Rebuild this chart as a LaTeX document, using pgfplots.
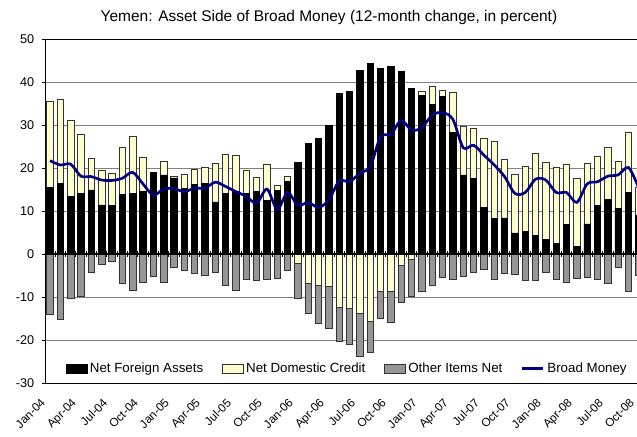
\documentclass[border=0pt]{standalone}
\usepackage{fontspec}
\setmainfont{Liberation Sans}
\usepackage{pgfplots}
\pgfplotsset{compat=1.18}
\usepackage{pgfplotstable}
\usetikzlibrary{calc}
\definecolor{ndc}{HTML}{FFFFCC}
\definecolor{oin}{HTML}{969696}
\definecolor{bmc}{HTML}{000080}
\definecolor{edge}{HTML}{333333}
\definecolor{gridc}{HTML}{808080}

% nfa = Net Foreign Assets (black top), ptop = top of positive stack,
% yneg = negative Net Domestic Credit, nbot = bottom of negative stack, bm = Broad Money
\pgfplotstableread{
m nfa ptop yneg nbot bm
0 15.4 35.6 0 -14.1 21.7
1 16.4 35.9 0 -15.2 20.7
2 13.4 31.1 0 -10.4 20.9
3 14.0 27.8 0 -9.8 18.1
4 14.9 22.3 0 -4.2 18.0
5 11.4 19.5 0 -2.5 17.2
6 11.2 18.8 0 -1.7 17.1
7 13.9 24.7 0 -6.9 17.6
8 14.1 27.3 0 -8.4 19.0
9 14.5 22.5 0 -6.5 16.3
10 19.0 19.0 0 -5.2 13.7
11 18.4 21.5 0 -6.7 15.1
12 17.7 18.1 0 -3.1 15.2
13 15.2 18.5 0 -3.9 14.5
14 16.2 19.7 0 -4.4 15.3
15 16.5 20.2 0 -4.9 15.3
16 12.1 21.0 0 -4.2 16.7
17 14.1 23.2 0 -7.3 15.7
18 14.5 22.9 0 -8.4 14.5
19 14.1 19.5 0 -5.8 13.4
20 14.5 17.9 0 -6.1 11.8
21 12.4 20.8 0 -5.8 15.1
22 14.7 16.0 0 -5.6 10.4
23 16.8 18.1 0 -3.9 14.3
24 21.3 21.3 -2.2 -10.2 11.3
25 25.7 25.7 -6.9 -13.7 12.0
26 26.9 26.9 -7.3 -16.1 10.8
27 29.9 29.9 -7.5 -17.4 12.6
28 37.3 37.3 -12.4 -20.4 17.0
29 37.9 37.9 -12.7 -21.0 16.8
30 42.6 42.6 -13.7 -23.7 18.8
31 44.4 44.4 -15.6 -22.8 20.3
32 43.2 43.2 -8.6 -14.9 27.3
33 43.7 43.7 -8.6 -16.0 27.8
34 42.5 42.5 -2.6 -11.2 31.1
35 38.5 38.5 -1.3 -9.8 28.8
36 36.8 37.9 0 -8.6 29.4
37 34.8 39.1 0 -7.2 32.3
38 36.7 38.1 0 -5.4 32.9
39 28.2 37.5 0 -5.9 31.3
40 18.4 29.7 0 -5.2 24.7
41 17.6 29.3 0 -4.2 25.3
42 10.9 26.8 0 -3.6 23.0
43 8.2 26.2 0 -5.8 20.7
44 8.4 22.1 0 -4.4 18.0
45 4.9 18.6 0 -4.7 14.1
46 5.2 20.5 0 -6.1 14.3
47 4.4 23.4 0 -6.1 17.4
48 3.3 21.3 0 -4.2 17.2
49 2.4 20.2 0 -5.9 14.3
50 6.8 20.8 0 -6.5 14.3
51 1.8 17.7 0 -5.7 12.0
52 7.0 21.1 0 -5.4 16.3
53 11.2 22.6 0 -5.9 16.8
54 12.6 24.9 0 -6.9 18.1
55 10.6 21.5 0 -3.0 18.4
56 14.4 28.4 0 -8.6 20.1
57 9.1 15.4 0 -5.0 15.3
}\data

\pgfplotsset{
  barimg/.style={legend image code/.code={\draw[##1] (0pt,-3.4pt) rectangle (15.75pt,3.4pt);}},
  lineimg/.style={legend image code/.code={\draw[##1] (0pt,0pt) -- (15.75pt,0pt);}},
  mybar/.style={ybar, bar width=4.8pt, bar shift=0pt, line width=0.5pt},
}

\begin{document}
\begin{tikzpicture}
\begin{axis}[name=ax, scale only axis, width=449.26pt, height=258pt,
  xmin=-0.484, xmax=57.5, ymin=-30, ymax=50,
  axis line style={black, line width=0.7pt},
  ytick={-30,-20,...,50}, ymajorgrids, grid style={gridc, line width=0.6pt},
  xtick={0,3,...,57},
  xticklabels={Jan-04,Apr-04,Jul-04,Oct-04,Jan-05,Apr-05,Jul-05,Oct-05,Jan-06,Apr-06,Jul-06,Oct-06,Jan-07,Apr-07,Jul-07,Oct-07,Jan-08,Apr-08,Jul-08,Oct-08},
  xtick style={draw=none}, ytick style={black, line width=0.6pt},
  tick align=outside, major tick length=2.5pt, ytick pos=left,
  xticklabel style={xshift=-7.5pt, yshift=-7pt, rotate=45, anchor=north east, inner sep=1pt, font=\fontsize{8.8}{10}\selectfont},
  yticklabel style={font=\fontsize{9.5}{11}\selectfont, xshift=-2pt},
  /pgf/number format/assume math mode=true,
  legend style={draw=none, fill=none, at={(axis cs:28.8,-26.7)}, anchor=center,
    legend columns=4, font=\fontsize{10}{12}\selectfont,
    /tikz/every even column/.append style={column sep=12pt}},
]
\addplot[mybar, fill=ndc, draw=edge, forget plot] table[x=m, y=ptop] {\data};
\addplot[mybar, fill=black, draw=black, forget plot] table[x=m, y=nfa] {\data};
\addplot[mybar, fill=oin, draw=edge, forget plot] table[x=m, y=nbot] {\data};
\addplot[mybar, fill=ndc, draw=edge, forget plot] table[x=m, y=yneg] {\data};
\draw[black, line width=1pt] (axis cs:-1,0) -- (axis cs:58,0);
\pgfplotsinvokeforeach{0,...,57}{\draw[black, line width=0.5pt] ($(axis cs:#1-0.5,0)+(0pt,-2.5pt)$) -- ($(axis cs:#1-0.5,0)+(0pt,2.5pt)$);}
\addlegendimage{barimg, fill=black, draw=black}
\addlegendentry{Net Foreign Assets}
\addlegendimage{barimg, fill=ndc, draw=edge}
\addlegendentry{Net Domestic Credit}
\addlegendimage{barimg, fill=oin, draw=edge}
\addlegendentry{Other Items Net}
\addplot[lineimg, bmc, line width=2pt, smooth, no marks] table[x=m, y=bm] {\data};
\addlegendentry{Broad Money}
\end{axis}
\node[anchor=base, font=\fontsize{11.6}{14}\selectfont, inner sep=0pt] at ($(ax.north west)+(213pt,13pt)$) {Yemen: Asset Side of Broad Money (12-month change, in percent)};
\pgfresetboundingbox
\path ($(ax.south west)+(-33.75pt,-40.5pt)$) rectangle ($(ax.north west)+(444pt,29.25pt)$);
\end{tikzpicture}
\end{document}
